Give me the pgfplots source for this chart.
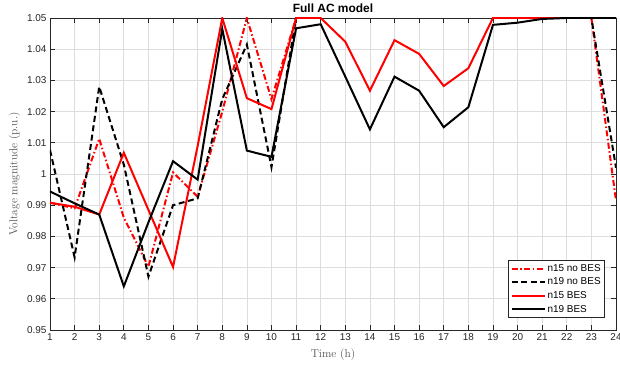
\documentclass[border=0pt]{standalone}
\usepackage{pgfplots}
\pgfplotsset{compat=1.18}
\usepackage{fontspec}
\setmainfont{Liberation Sans}
\newfontfamily\lmr{Latin Modern Roman}
\definecolor{axgray}{gray}{0.15}
\definecolor{gridgray}{gray}{0.87}
\begin{document}
\begin{tikzpicture}
\begin{axis}[
  scale only axis,
  width=566bp, height=312bp,
  xmin=1, xmax=24, ymin=0.95, ymax=1.05,
  xtick={1,2,...,24},
  ytick={0.95,0.96,0.97,0.98,0.99,1,1.01,1.02,1.03,1.04,1.05},
  yticklabels={0.95,0.96,0.97,0.98,0.99,1,1.01,1.02,1.03,1.04,1.05},
  /pgf/number format/assume math mode=true,
  tick label style={font=\fontsize{10}{11}\selectfont, color=axgray},
  grid=major,
  major grid style={gridgray, line width=0.7bp},
  axis line style={axgray, line width=0.7bp},
  tick style={axgray, line width=0.7bp},
  major tick length=5bp,
  tick align=inside,
  xtick pos=both, ytick pos=both,
  title={Full AC model},
  title style={font=\bfseries\fontsize{12}{13}\selectfont, yshift=-4bp},
  xlabel={\lmr Time (h)},
  ylabel={\lmr Voltage magnitude (p.u.)},
  label style={font=\fontsize{11.5}{13}\selectfont, color=axgray!80},
  xlabel style={yshift=-1bp},
  ylabel style={yshift=0bp},
  legend style={at={(0.9806,0.0385)}, anchor=south east, font=\fontsize{10}{11}\selectfont,
    draw=axgray, line width=0.7bp, inner sep=2bp, row sep=1.2bp,
    cells={anchor=west}},
  legend image code/.code={\draw[#1] (0bp,0bp) -- (33bp,0bp);},
]
\coordinate (sw) at (rel axis cs:0,0);
\coordinate (ne) at (rel axis cs:1,1);
\addplot[red, line width=2bp, dash pattern=on 6bp off 2.5bp on 1.5bp off 2.5bp] coordinates {
(1,0.9908) (2,0.9890) (3,1.0113) (4,0.9860) (5,0.9703) (6,1.0005) (7,0.9927) (8,1.0200)
(9,1.0500) (10,1.0240) (11,1.05) (12,1.06) (13,1.06) (14,1.06) (15,1.06) (16,1.06)
(17,1.06) (18,1.06) (19,1.06) (20,1.06) (21,1.06) (22,1.06) (23,1.05) (24,0.9915)};
\addlegendentry{n15 no BES}
\addplot[black, line width=2bp, dash pattern=on 6bp off 3.5bp] coordinates {
(1,1.0077) (2,0.9733) (3,1.0280) (4,1.0030) (5,0.9671) (6,0.9900) (7,0.9922) (8,1.0240)
(9,1.0415) (10,1.0022) (11,1.05) (12,1.06) (13,1.06) (14,1.06) (15,1.06) (16,1.06)
(17,1.06) (18,1.06) (19,1.06) (20,1.06) (21,1.06) (22,1.06) (23,1.05) (24,1.0020)};
\addlegendentry{n19 no BES}
\addplot[red, line width=2bp] coordinates {
(1,0.9908) (2,0.9895) (3,0.9870) (4,1.0068) (5,0.9885) (6,0.9702) (7,1.0090) (8,1.0500)
(9,1.0243) (10,1.0208) (11,1.05) (12,1.05) (13,1.0424) (14,1.0267) (15,1.0429) (16,1.0385)
(17,1.0282) (18,1.0339) (19,1.05) (20,1.05) (21,1.05) (22,1.05) (23,1.05) (24,1.05)};
\addlegendentry{n15 BES}
\addplot[black, line width=2bp] coordinates {
(1,0.9944) (2,0.9906) (3,0.9870) (4,0.9640) (5,0.9845) (6,1.0041) (7,0.9982) (8,1.0465)
(9,1.0075) (10,1.0055) (11,1.0467) (12,1.0480) (13,1.0312) (14,1.0143) (15,1.0312) (16,1.0267)
(17,1.0150) (18,1.0214) (19,1.0478) (20,1.0485) (21,1.0497) (22,1.05) (23,1.05) (24,1.05)};
\addlegendentry{n19 BES}
\end{axis}
\pgfresetboundingbox
\path[use as bounding box] ([shift={(-50bp,-39bp)}]sw) rectangle ([shift={(4bp,18bp)}]ne);
\end{tikzpicture}
\end{document}
